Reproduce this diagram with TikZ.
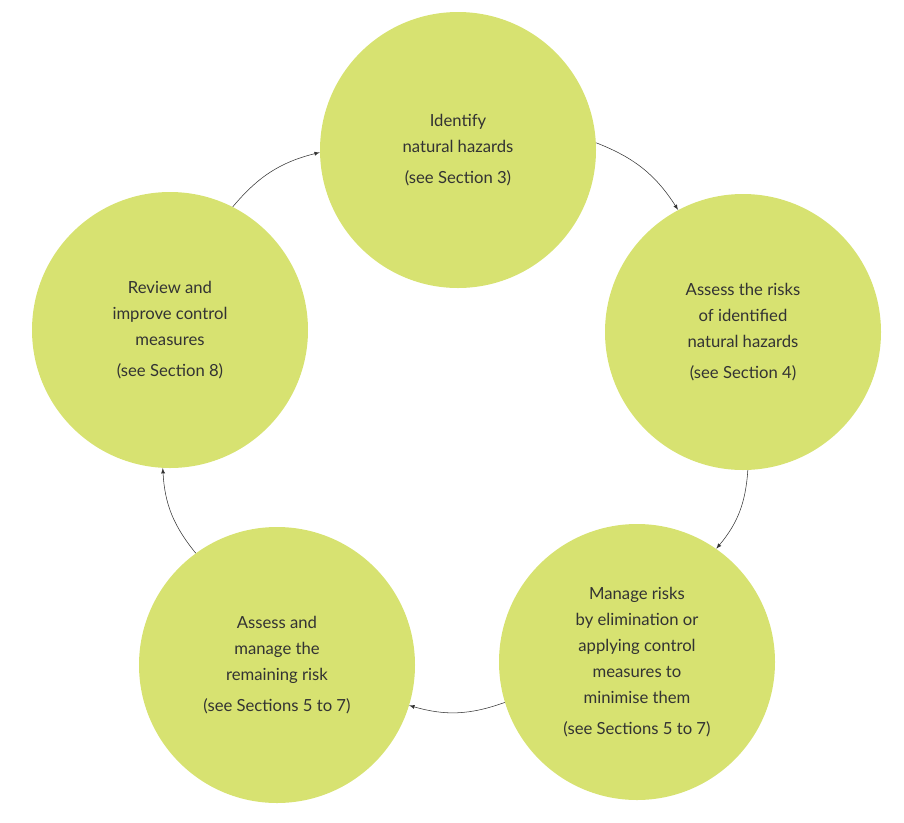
\documentclass[tikz,border=0pt]{standalone}
\usepackage{fontspec}
\setmainfont{Lato}
\tikzset{>=latex}
\definecolor{stepgreen}{HTML}{D7E271}
\definecolor{steptext}{HTML}{333333}
\tikzset{
  stage/.style={circle, fill=stepgreen, minimum size=276pt*0.75, inner sep=0pt,
    align=center, text=steptext, font=\fontsize{12.5}{19.5}\selectfont},
  flow/.style={->, thin, black!80}
}

\begin{document}
\begin{tikzpicture}[x=0.75pt,y=-0.75pt]
  \useasboundingbox (0,0) rectangle (904,822);
  % stages
  \node[stage] (identify) at (458,150) {Identify\\natural hazards\\[4pt](see Section 3)};
  \node[stage] (assess) at (743,332) {Assess the risks\\of identified\\natural hazards\\[4pt](see Section 4)};
  \node[stage] (manage) at (637,662) {Manage risks\\by elimination or\\applying control\\measures to\\minimise them\\[4pt](see Sections 5 to 7)};
  \node[stage] (remain) at (277,665) {Assess and\\manage the\\remaining risk\\[4pt](see Sections 5 to 7)};
  \node[stage] (review) at (170,330) {Review and\\improve control\\measures\\[4pt](see Section 8)};
  % cycle
  \draw[flow] (identify.3) to[bend left=18] (assess.118);
  \draw[flow] (assess.-88) to[bend left=18] (manage.55);
  \draw[flow] (manage.197) to[bend left=18] (remain.-17);
  \draw[flow] (remain.126) to[bend left=18] (review.-93);
  \draw[flow] (review.63) to[bend left=18] (identify.181);
\end{tikzpicture}
\end{document}
